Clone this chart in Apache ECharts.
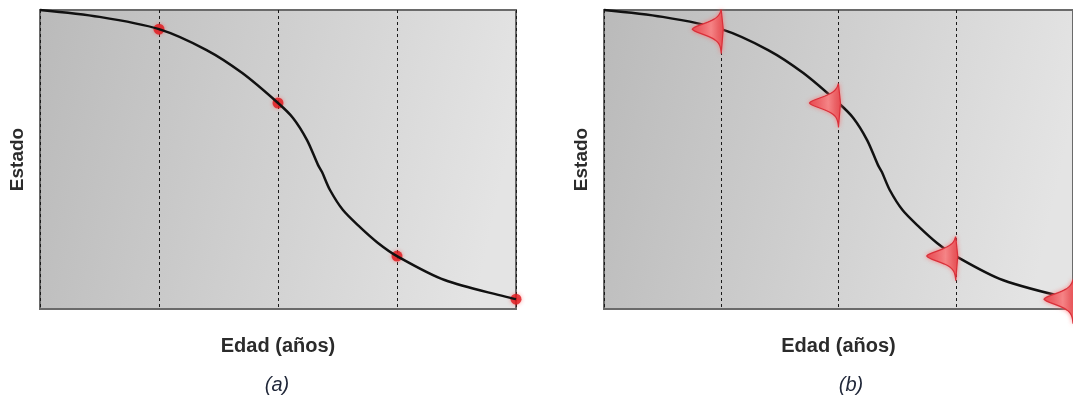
<!DOCTYPE html>
<html>
<head>
<meta charset="utf-8">
<script src="https://cdn.jsdelivr.net/npm/echarts@6/dist/echarts.min.js"></script>
<style>
html,body{margin:0;padding:0;background:#fff;}
#chart{width:1073px;height:397px;}
</style>
</head>
<body>
<div id="chart"></div>
<script>
// ---- data ----
const curveAge   = [0, 0.5, 1, 1.4, 1.7, 2, 2.126, 2.244, 2.336, 2.37, 2.437, 2.546, 2.689, 2.84, 3, 3.4, 4];
const curveState = [100, 97.7, 93.6, 86.6, 78.9, 68.9, 63.9, 56.5, 48.2, 45.8, 39.8, 33.1, 27.4, 22.1, 17.7, 9.7, 3.3];
const stageAges   = [1, 2, 3, 4];
const stageStates = [93.6, 68.9, 17.7, 3.3];
const xName = 'Edad (años)';
const yName = 'Estado';
const panelLabels = ['(a)', '(b)'];

const curve = curveAge.map((a, i) => [a, curveState[i]]);
const stages = stageAges.map((a, i) => [a, stageStates[i]]);

const chart = echarts.init(document.getElementById('chart'), null, {renderer: 'canvas'});

const bg = {
  type: 'linear', x: 0, y: 0, x2: 1, y2: 0.35,
  colorStops: [{offset: 0, color: '#bababa'}, {offset: 1, color: '#e4e4e4'}]
};

const grids = [
  {left: 40, top: 10, width: 476, height: 299},
  {left: 604, top: 10, width: 484, height: 299}
];

function xAxis(i) {
  return {
    type: 'value', gridIndex: i, min: 0, max: 4, interval: 1,
    name: xName, nameLocation: 'middle', nameGap: 27,
    nameTextStyle: {fontFamily: 'Liberation Sans', fontWeight: 'bold', fontSize: 20, color: '#2b2b2b'},
    axisLine: {show: false}, axisTick: {show: false}, axisLabel: {show: false},
    splitLine: {show: true, lineStyle: {color: '#1a1a1a', width: 1, type: [3, 3]}}
  };
}
function yAxis(i) {
  return {
    type: 'value', gridIndex: i, min: 0, max: 100,
    name: yName, nameLocation: 'middle', nameGap: 13, nameRotate: 90,
    nameTextStyle: {fontFamily: 'Liberation Sans', fontWeight: 'bold', fontSize: 19, color: '#2b2b2b'},
    axisLine: {show: false}, axisTick: {show: false}, axisLabel: {show: false},
    splitLine: {show: false}
  };
}

function gaussMarker(params, api) {
  const p = api.coord([api.value(0), api.value(1)]);
  const Lt = 19, Lb = 24, A = 27;
  const left = [], right = [];
  for (let t = -Lt; t <= Lb; t += 1) {
    const L = t < 0 ? Lt : Lb;
    const base = 2.0 * (1 - Math.abs(t) / L);
    const bulge = A * Math.exp(-Math.pow(Math.abs(t) / 8, 1.7));
    left.push([p[0] - base - bulge, p[1] + t]);
    right.push([p[0] + base, p[1] + t]);
  }
  const pts = left.concat(right.reverse());
  return {
    type: 'polygon',
    shape: {points: pts},
    style: {
      fill: {
        type: 'linear', x: 0, y: 0, x2: 1, y2: 0,
        colorStops: [{offset: 0, color: '#e4414a'}, {offset: 0.6, color: '#f58587'}, {offset: 1, color: '#e2464c'}]
      },
      stroke: '#d9303a', lineWidth: 1.2,
      shadowBlur: 4, shadowColor: 'rgba(255,110,110,0.7)'
    }
  };
}

const option = {
  backgroundColor: '#ffffff',
  animation: false,
  title: [
    {text: panelLabels[0], left: 272, top: 370, textAlign: 'center',
     textStyle: {fontFamily: 'Liberation Sans', fontStyle: 'italic', fontWeight: 'normal', fontSize: 20, color: '#1f2638'}},
    {text: panelLabels[1], left: 846, top: 370, textAlign: 'center',
     textStyle: {fontFamily: 'Liberation Sans', fontStyle: 'italic', fontWeight: 'normal', fontSize: 20, color: '#1f2638'}}
  ],
  grid: grids.map(g => Object.assign({show: true, backgroundColor: bg, borderColor: '#6a6a6a', borderWidth: 2}, g)),
  xAxis: [xAxis(0), xAxis(1)],
  yAxis: [yAxis(0), yAxis(1)],
  series: [
    {type: 'line', xAxisIndex: 0, yAxisIndex: 0, data: curve, smooth: 0.3, showSymbol: false,
     lineStyle: {color: '#111', width: 2.5}, clip: false},
    {type: 'scatter', xAxisIndex: 0, yAxisIndex: 0, data: stages, symbolSize: 11, clip: false,
     itemStyle: {color: '#e0161b', shadowBlur: 4, shadowColor: 'rgba(255,60,60,0.6)'}},
    {type: 'line', xAxisIndex: 1, yAxisIndex: 1, data: curve, smooth: 0.3, showSymbol: false,
     lineStyle: {color: '#111', width: 2.5}, clip: false},
    {type: 'custom', xAxisIndex: 1, yAxisIndex: 1, data: stages, renderItem: gaussMarker, clip: false, z: 5}
  ]
};
chart.setOption(option);
</script>
</body>
</html>
